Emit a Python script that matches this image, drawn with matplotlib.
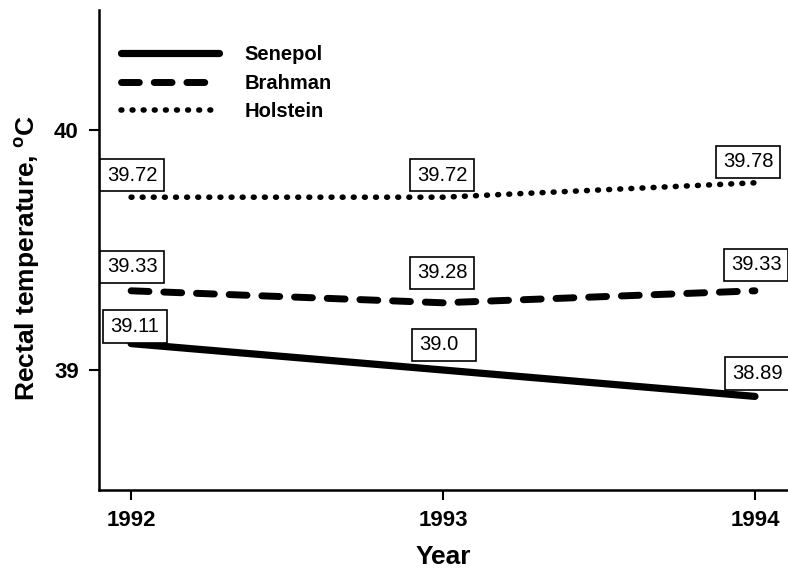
import matplotlib
matplotlib.use('Agg')
import matplotlib.pyplot as plt
from matplotlib.path import Path

# DATA
years = [1992, 1993, 1994]
senepol = [39.11, 39.0, 38.89]
brahman = [39.33, 39.28, 39.33]
holstein = [39.72, 39.72, 39.78]

plt.rcParams['font.family'] = ['Liberation Sans', 'DejaVu Sans']
plt.rcParams['mathtext.fontset'] = 'custom'
plt.rcParams['mathtext.rm'] = 'Liberation Sans'
plt.rcParams['mathtext.bf'] = 'Liberation Sans:bold'

DPI = 100
fig = plt.figure(figsize=(7.88, 5.72), dpi=DPI)
ax = fig.add_axes([99 / 788, 82 / 572, 689 / 788, 480 / 572])

ax.plot(years, senepol, color='black', lw=5.2, solid_capstyle='round', label='Senepol')
ax.plot(years, brahman, color='black', lw=5.0, linestyle=(0, (2.57, 2.14)),
        dash_capstyle='round', label='Brahman')
ax.plot(years, holstein, color='black', lw=4.0, linestyle=(0, (0.15, 1.85)),
        dash_capstyle='round', label='Holstein')


def fixed_box(x0, y0, width, height, mutation_size):
    # square box, at least as wide as a "00.00" label, text stays left aligned
    pad = 0.33 * mutation_size
    w = max(width, 2.5 * mutation_size)
    l, b, r, t = x0 - pad, y0 - pad, x0 + w + pad, y0 + height + pad
    return Path([(l, b), (r, b), (r, t), (l, t), (l, b)], closed=True)


# value boxes: offsets in pixels (box left from point x, box centre above point y)
offsets = {
    'holstein': [(-31, 22), (-33, 22), (-39, 21)],
    'brahman': [(-31, 24), (-33, 30), (-31, 26)],
    'senepol': [(-28, 17), (-31, 25), (-30, 23)],
}
px = 72 / DPI
for name, vals in [('holstein', holstein), ('brahman', brahman), ('senepol', senepol)]:
    for x, v, (dx, dy) in zip(years, vals, offsets[name]):
        ax.annotate(str(v), (x, v), xytext=((dx + 7) * px, dy * px),
                    textcoords='offset points', ha='left', va='center',
                    fontsize=14.5, color='black',
                    bbox=dict(boxstyle=fixed_box, fc='white', ec='black', lw=1.2))

ax.set_xlim(1991.897, 1994.106)
ax.set_ylim(38.5, 40.5)
ax.set_xticks(years)
ax.set_xticklabels([str(y) for y in years])
ax.set_yticks([39, 40])

for side in ['top', 'right']:
    ax.spines[side].set_visible(False)
for side in ['left', 'bottom']:
    ax.spines[side].set_linewidth(1.8)

ax.tick_params(direction='out', length=7.5, width=1.5, labelsize=16, pad=7)
for lab in ax.get_xticklabels() + ax.get_yticklabels():
    lab.set_fontweight('bold')

ax.set_ylabel(r'Rectal temperature, $^{\mathbf{o}}$C', fontsize=19, fontweight='bold', va='center')
ax.yaxis.set_label_coords((27 - 99) / 689, (490 - 258) / 480)
ax.set_xlabel('Year', fontsize=19, fontweight='bold', va='center')
ax.xaxis.set_label_coords((443 - 99) / 689, (490 - 557) / 480)

leg = ax.legend(loc='upper left', bbox_to_anchor=((121 - 99) / 689, (490 - 45) / 480),
                frameon=False, borderpad=0, borderaxespad=0, handlelength=4.87,
                handletextpad=1.25, labelspacing=0.475,
                prop={'size': 14.5, 'weight': 'bold'})

fig.savefig('out.png', dpi=DPI)
plt.close(fig)
